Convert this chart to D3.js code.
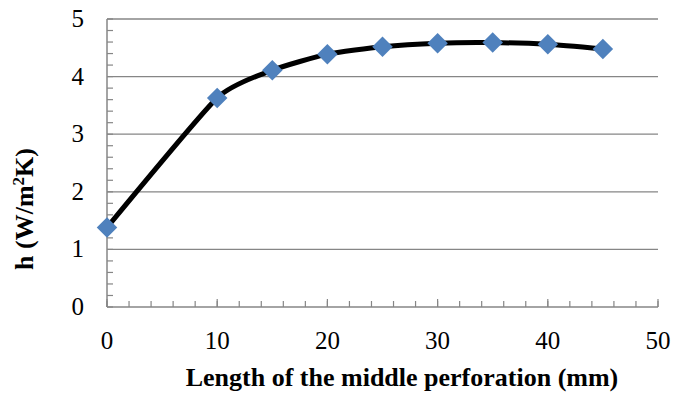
<!DOCTYPE html>
<html>
<head>
<meta charset="utf-8">
<script src="https://cdn.jsdelivr.net/npm/d3@7"></script>
<style>
  body { margin: 0; background: #fff; }
</style>
</head>
<body>
<div id="vis"></div>
<script>
// data
var lengths = [0, 10, 15, 20, 25, 30, 35, 40, 45];
var hValues = [1.38, 3.63, 4.11, 4.39, 4.52, 4.58, 4.59, 4.56, 4.48];
var xTicks = [0, 10, 20, 30, 40, 50];
var yTicks = [0, 1, 2, 3, 4, 5];

var width = 674, height = 396;
var margin = { left: 107, top: 19, right: 16, bottom: 89 };
var gridColor = '#868686';
var fontFamily = 'Liberation Serif';

var svg = d3.select('#vis')
    .append('svg')
        .attr('width', width)
        .attr('height', height);

var x = d3.scaleLinear().domain([0, 50]).range([margin.left, width - margin.right]);
var y = d3.scaleLinear().domain([0, 5]).range([height - margin.bottom, margin.top]);

// horizontal grid lines
svg.append('g')
    .selectAll('line')
    .data(yTicks.slice(1))
    .enter()
    .append('line')
        .attr('x1', x(0))
        .attr('x2', x(50))
        .attr('y1', function(d) { return y(d); })
        .attr('y2', function(d) { return y(d); })
        .attr('stroke', gridColor)
        .attr('stroke-width', 1.3);

// minor ticks
var yMinor = d3.range(0, 5.001, 0.2);
svg.append('g')
    .selectAll('line')
    .data(yMinor)
    .enter()
    .append('line')
        .attr('x1', x(0))
        .attr('x2', x(0) + 6)
        .attr('y1', function(d) { return y(d); })
        .attr('y2', function(d) { return y(d); })
        .attr('stroke', gridColor)
        .attr('stroke-width', 1.2);

var xMinor = d3.range(0, 50.001, 2);
svg.append('g')
    .selectAll('line')
    .data(xMinor)
    .enter()
    .append('line')
        .attr('x1', function(d) { return x(d); })
        .attr('x2', function(d) { return x(d); })
        .attr('y1', y(0))
        .attr('y2', y(0) - 6)
        .attr('stroke', gridColor)
        .attr('stroke-width', 1.2);

svg.append('g')
    .selectAll('line')
    .data(xTicks)
    .enter()
    .append('line')
        .attr('x1', function(d) { return x(d); })
        .attr('x2', function(d) { return x(d); })
        .attr('y1', y(0))
        .attr('y2', y(0) - 8)
        .attr('stroke', gridColor)
        .attr('stroke-width', 1.2);

// axis lines
svg.append('line')
    .attr('x1', x(0)).attr('x2', x(0))
    .attr('y1', y(0)).attr('y2', y(5))
    .attr('stroke', gridColor).attr('stroke-width', 1.5);
svg.append('line')
    .attr('x1', x(0)).attr('x2', x(50))
    .attr('y1', y(0)).attr('y2', y(0))
    .attr('stroke', gridColor).attr('stroke-width', 1.5);

// tick labels
svg.append('g')
    .selectAll('text')
    .data(yTicks)
    .enter()
    .append('text')
        .attr('x', 84)
        .attr('y', function(d) { return y(d) + 8; })
        .attr('text-anchor', 'end')
        .attr('font-family', fontFamily)
        .attr('font-size', 25)
        .text(function(d) { return d; });

svg.append('g')
    .selectAll('text')
    .data(xTicks)
    .enter()
    .append('text')
        .attr('x', function(d) { return x(d); })
        .attr('y', 349)
        .attr('text-anchor', 'middle')
        .attr('font-family', fontFamily)
        .attr('font-size', 25)
        .text(function(d) { return d; });

// line + markers
var pts = lengths.map(function(d, i) { return [d, hValues[i]]; });

var line = d3.line()
    .x(function(d) { return x(d[0]); })
    .y(function(d) { return y(d[1]); })
    .curve(d3.curveCardinal.tension(0.45));

svg.append('path')
    .datum(pts)
    .attr('d', line)
    .attr('fill', 'none')
    .attr('stroke', '#000')
    .attr('stroke-width', 5)
    .attr('stroke-linejoin', 'round');

var diamond = d3.symbol().type(d3.symbolSquare).size(210);
svg.append('g')
    .selectAll('path')
    .data(pts)
    .enter()
    .append('path')
        .attr('d', diamond)
        .attr('transform', function(d) {
            return 'translate(' + x(d[0]) + ',' + y(d[1]) + ') rotate(45)';
        })
        .attr('fill', '#4F81BD');

// axis titles
svg.append('text')
    .attr('x', 402)
    .attr('y', 386)
    .attr('text-anchor', 'middle')
    .attr('font-family', fontFamily)
    .attr('font-size', 26)
    .attr('font-weight', 'bold')
    .text('Length of the middle perforation (mm)');

var yt = svg.append('text')
    .attr('transform', 'translate(33,209) rotate(-90)')
    .attr('text-anchor', 'middle')
    .attr('font-family', fontFamily)
    .attr('font-size', 26)
    .attr('font-weight', 'bold');
yt.append('tspan').text('h (W/m');
yt.append('tspan').attr('font-size', 17).attr('dy', -9).text('2');
yt.append('tspan').attr('dy', 9).text('K)');
</script>
</body>
</html>
